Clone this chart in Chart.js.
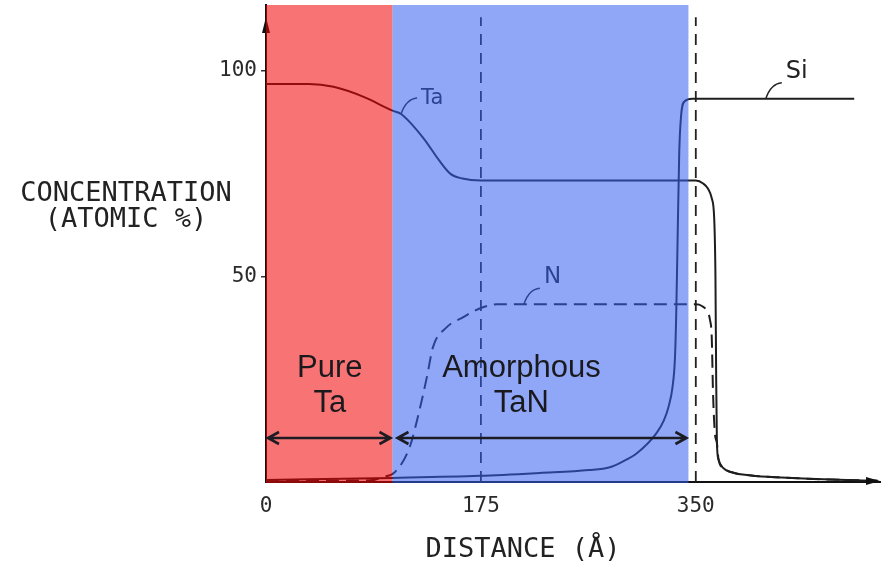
<!DOCTYPE html>
<html>
<head>
<meta charset="utf-8">
<title>Concentration profile</title>
<script src="https://cdn.jsdelivr.net/npm/chart.js@4.4.0/dist/chart.umd.min.js"></script>
<style>
  html, body { margin: 0; padding: 0; background: #fff; }
  #wrap { width: 889px; height: 569px; }
</style>
</head>
<body>
<div id="wrap"><canvas id="myChart"></canvas></div>
<script>
// distance (angstrom) and concentration (atomic %)
const taX = [0, 35, 55, 80, 103, 110, 128, 141, 150, 160, 175, 350, 356, 360, 363, 365, 366, 366.6, 367.2, 368.5, 372, 380, 395, 420, 460, 498];
const taY = [96.8, 96.8, 96.1, 93.6, 90.3, 89.5, 83.7, 78.2, 75.0, 73.8, 73.3, 73.3, 72.6, 71.3, 69.0, 64, 50, 25, 9.5, 5.5, 3.5, 2.3, 1.6, 1.1, 0.6, 0.3];

const nX = [0, 85, 95, 105, 117, 125, 131, 136, 147, 160, 174, 188, 350, 355, 359, 361.5, 363, 364, 365.5, 367.2, 368.5, 372, 380, 395, 420, 460, 498];
const nY = [0.3, 0.4, 1.2, 2.4, 8.5, 17.5, 25.5, 32.8, 37.6, 40.0, 42.2, 43.2, 43.2, 42.8, 41.6, 39.5, 35, 22, 12, 9.5, 5.5, 3.5, 2.3, 1.6, 1.1, 0.6, 0.3];

const siX = [0, 103, 174, 223, 263, 280, 290, 302, 318, 324, 328, 331, 333, 334, 335, 336.5, 338, 341, 347, 479];
const siY = [0.5, 1.0, 1.5, 2.2, 2.9, 3.6, 4.9, 7.0, 11.9, 15.0, 18.5, 23, 30, 40, 56, 80, 89, 92.6, 93.2, 93.2];

const xTicks = [0, 175, 350];
const yTicks = [50, 100];
const markerX = [175, 350];      // dashed verticals
const markerTop = 113;

const regionFrom = [0, 103];
const regionTo = [103, 344];
const regionNames = [['Pure', 'Ta'], ['Amorphous', 'TaN']];
const regionTextX = [52, 208];
const arrowLevel = 10.7;

const curveNames = ['Ta', 'N', 'Si'];

function pts(xs, ys) {
  return xs.map(function (x, i) { return { x: x, y: ys[i] }; });
}

const monoFont = '"DejaVu Sans Mono", monospace';

// overlay, labels and arrows
const decor = {
  id: 'decor',
  afterDatasetsDraw: function (chart) {
    const ctx = chart.ctx;
    const xs = chart.scales.x, ys = chart.scales.y;
    const a = chart.chartArea;
    ctx.save();

    // arrow heads of the axes
    ctx.fillStyle = '#111';
    ctx.beginPath();
    ctx.moveTo(a.left, a.top + 12);
    ctx.lineTo(a.left + 4, a.top + 28);
    ctx.lineTo(a.left - 4, a.top + 28);
    ctx.closePath();
    ctx.fill();
    ctx.beginPath();
    ctx.moveTo(a.right, a.bottom - 1);
    ctx.lineTo(a.right - 14, a.bottom - 5);
    ctx.lineTo(a.right - 14, a.bottom + 3);
    ctx.closePath();
    ctx.fill();

    // curve name leaders
    const anchors = [[110, 89.5], [210, 43.2], [407, 93.2]];
    const sizes = [21, 23, 24];
    const textDy = [-15, -27, -27];
    ctx.strokeStyle = '#222';
    ctx.lineWidth = 1.5;
    ctx.fillStyle = '#222';
    ctx.textBaseline = 'middle';
    ctx.textAlign = 'left';
    curveNames.forEach(function (name, i) {
      const px = xs.getPixelForValue(anchors[i][0]);
      const py = ys.getPixelForValue(anchors[i][1]);
      ctx.beginPath();
      ctx.moveTo(px, py);
      ctx.quadraticCurveTo(px + 5, py - 15, px + 16, py - 16);
      ctx.stroke();
      ctx.font = sizes[i] + 'px "DejaVu Sans", sans-serif';
      ctx.fillText(name, px + 20, py + textDy[i]);
    });

    // coloured regions, laid over the curves
    const fills = ['rgba(242, 0, 0, 0.55)', 'rgba(51, 95, 238, 0.55)'];
    regionFrom.forEach(function (f, i) {
      const x0 = xs.getPixelForValue(f);
      const x1 = xs.getPixelForValue(regionTo[i]);
      ctx.fillStyle = fills[i];
      ctx.fillRect(x0, a.top, x1 - x0, a.bottom - a.top + 1);
    });
    ctx.restore();
  },
  afterDraw: function (chart) {
    const ctx = chart.ctx;
    const xs = chart.scales.x, ys = chart.scales.y;
    ctx.save();

    // double arrows and region names
    const ay = ys.getPixelForValue(arrowLevel);
    const gaps = [[2, -2], [5, -2]];
    ctx.strokeStyle = '#1c1c24';
    ctx.lineWidth = 2.6;
    regionFrom.forEach(function (f, i) {
      const x0 = xs.getPixelForValue(f) + gaps[i][0];
      const x1 = xs.getPixelForValue(regionTo[i]) + gaps[i][1];
      ctx.beginPath();
      ctx.moveTo(x0, ay); ctx.lineTo(x1, ay);
      ctx.moveTo(x0 + 11, ay - 6); ctx.lineTo(x0, ay); ctx.lineTo(x0 + 11, ay + 6);
      ctx.moveTo(x1 - 11, ay - 6); ctx.lineTo(x1, ay); ctx.lineTo(x1 - 11, ay + 6);
      ctx.stroke();

      const tx = xs.getPixelForValue(regionTextX[i]);
      ctx.fillStyle = '#1a1a1e';
      ctx.font = '31px "Liberation Sans", Arial, sans-serif';
      ctx.textAlign = 'center';
      ctx.textBaseline = 'alphabetic';
      ctx.fillText(regionNames[i][0], tx, 377);
      ctx.fillText(regionNames[i][1], tx, 412);
    });

    // axis titles
    ctx.fillStyle = '#222';
    ctx.font = '27px ' + monoFont;
    ctx.textAlign = 'center';
    ctx.textBaseline = 'middle';
    ctx.fillText('CONCENTRATION', 126, 194);
    ctx.fillText('(ATOMIC %)', 126, 220);
    ctx.fillText('DISTANCE (\u00c5)', 523, 550);
    ctx.restore();
  }
};

const lineStyle = {
  borderColor: '#1e1e1e',
  borderWidth: 2,
  pointRadius: 0,
  fill: false,
  cubicInterpolationMode: 'monotone'
};

const datasets = [
  Object.assign({ label: 'Ta', data: pts(taX, taY) }, lineStyle),
  Object.assign({ label: 'N', data: pts(nX, nY), borderDash: [13, 7] }, lineStyle),
  Object.assign({ label: 'Si', data: pts(siX, siY) }, lineStyle)
];
markerX.forEach(function (m) {
  datasets.push({
    label: 'marker ' + m,
    data: [{ x: m, y: 0 }, { x: m, y: markerTop }],
    borderColor: '#222',
    borderWidth: 1.8,
    borderDash: [11, 8],
    pointRadius: 0,
    fill: false
  });
});

const ctx = document.getElementById('myChart');
const myChart = new Chart(ctx, {
  type: 'line',
  data: { datasets: datasets },
  options: {
    responsive: true,
    maintainAspectRatio: false,
    animation: false,
    layout: { padding: { top: 5, right: 9, left: 0, bottom: 0 } },
    plugins: { legend: { display: false }, tooltip: { enabled: false } },
    scales: {
      x: {
        type: 'linear', min: 0, max: 500,
        afterBuildTicks: function (s) { s.ticks = xTicks.map(function (v) { return { value: v }; }); },
        afterFit: function (s) { s.height = 87; s.paddingLeft = 0; s.paddingRight = 0; },
        grid: { display: false },
        border: { display: true, color: '#111', width: 2 },
        ticks: { padding: 4, color: '#2a2a2a', font: { family: monoFont, size: 21 } }
      },
      y: {
        type: 'linear', min: 0, max: 116,
        afterBuildTicks: function (s) { s.ticks = yTicks.map(function (v) { return { value: v }; }); },
        afterFit: function (s) { s.width = 266; s.paddingTop = 0; s.paddingBottom = 0; },
        grid: { display: true, drawOnChartArea: false, drawTicks: true, tickLength: 5, color: '#333', lineWidth: 1.5 },
        border: { display: true, color: '#111', width: 2 },
        ticks: { padding: 4, color: '#2a2a2a', font: { family: monoFont, size: 21 } }
      }
    }
  },
  plugins: [decor]
});
</script>
</body>
</html>
